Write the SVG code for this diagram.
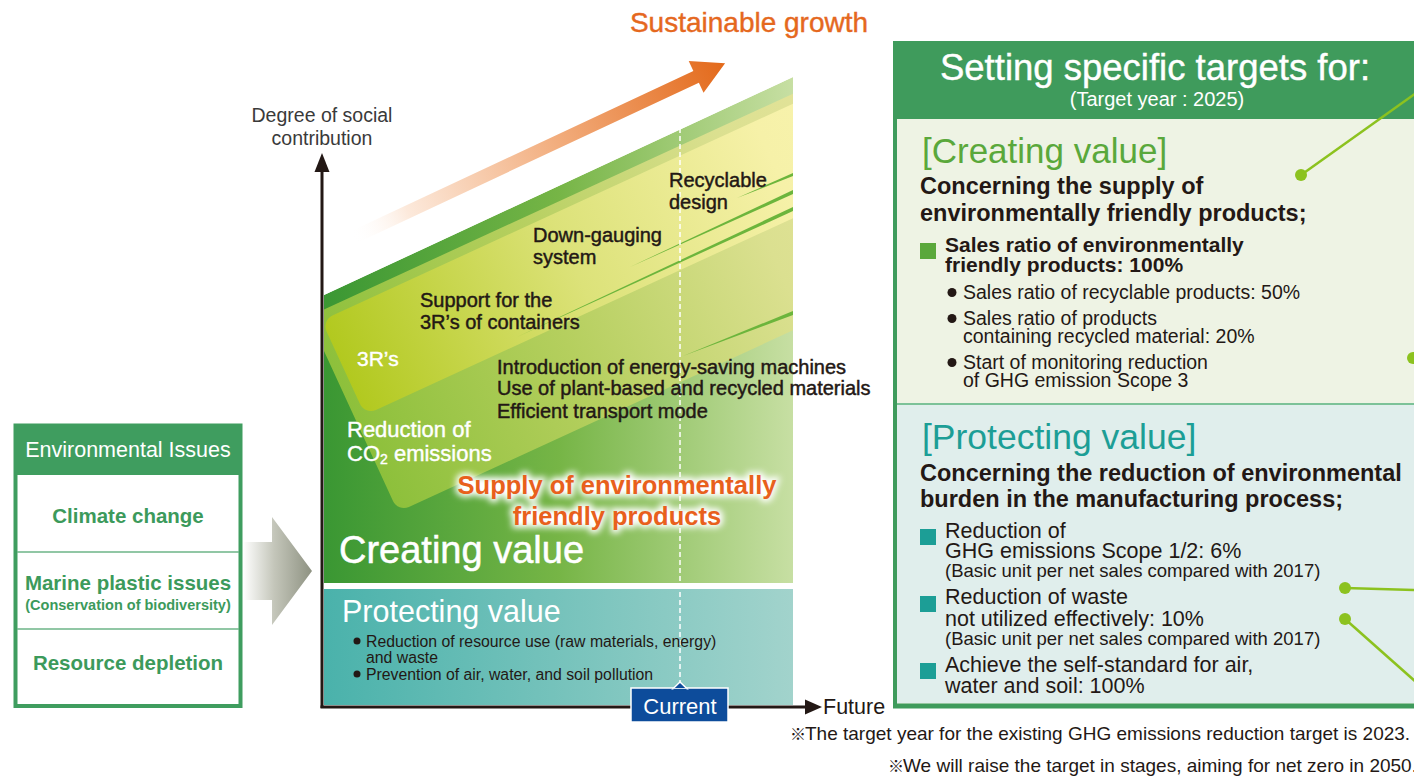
<svg xmlns="http://www.w3.org/2000/svg" width="1414" height="777" viewBox="0 0 1414 777">
<defs>
<style>
.t{font-family:"Liberation Sans",Arial,"DejaVu Sans",sans-serif}
.dk{fill:#231815}
.med{stroke:#231815;stroke-width:0.45}
.w{fill:#ffffff}
.g{fill:#3c9a5b;font-weight:bold}
.lead{stroke:#8cc21f;stroke-width:2.5;fill:none}
.dot{fill:#8cc21f}
</style>
<linearGradient id="bgGrad" gradientUnits="userSpaceOnUse" x1="324" y1="0" x2="793" y2="0">
<stop offset="0" stop-color="#3a9733"/><stop offset="0.5" stop-color="#76b546"/><stop offset="1" stop-color="#c7dfa3"/>
</linearGradient>
<linearGradient id="card1" x1="0" y1="0" x2="1" y2="0">
<stop offset="0" stop-color="#8dc03b"/><stop offset="0.4" stop-color="#b5cf5e"/><stop offset="0.8" stop-color="#dbe090"/><stop offset="1" stop-color="#e3e39a"/>
</linearGradient>
<linearGradient id="card2" x1="0" y1="0" x2="1" y2="0">
<stop offset="0" stop-color="#b2c91f"/><stop offset="0.45" stop-color="#dce279"/><stop offset="0.85" stop-color="#f6f1a8"/><stop offset="1" stop-color="#f8f3ae"/>
</linearGradient>
<linearGradient id="protGrad" gradientUnits="userSpaceOnUse" x1="324" y1="0" x2="793" y2="0">
<stop offset="0" stop-color="#4ab2ab"/><stop offset="1" stop-color="#a2d3cc"/>
</linearGradient>
<linearGradient id="orangeGrad" x1="0" y1="0" x2="1" y2="0">
<stop offset="0" stop-color="#ffffff" stop-opacity="0"/><stop offset="0.15" stop-color="#fce9db"/><stop offset="0.55" stop-color="#f2ad7d"/><stop offset="1" stop-color="#e3691a"/>
</linearGradient>
<linearGradient id="grayGrad" gradientUnits="userSpaceOnUse" x1="243" y1="0" x2="312" y2="0">
<stop offset="0" stop-color="#ffffff"/><stop offset="0.45" stop-color="#c4c6ba"/><stop offset="1" stop-color="#8e9282"/>
</linearGradient>
<clipPath id="chartClip"><path d="M324,295 L793,77 L793,583 L324,583 Z"/></clipPath>
<filter id="glow" x="-10%" y="-40%" width="120%" height="180%"><feGaussianBlur stdDeviation="3"/></filter>
</defs>

<rect width="1414" height="777" fill="#ffffff"/>

<!-- Sustainable growth arrow -->
<g id="growth-arrow">
<path d="M0,-6.5 L380,-6.5 L380,-17.5 L412,0 L380,17.5 L380,6.5 L0,6.5 Z" transform="translate(352,238) rotate(-25.1)" fill="url(#orangeGrad)"/>
<text class="t" x="749" y="32" font-size="28" fill="#e5681e" stroke="#e5681e" stroke-width="0.4" text-anchor="middle">Sustainable growth</text>
</g>

<!-- Chart -->
<g id="chart">
<g clip-path="url(#chartClip)">
<path d="M324,295 L793,77 L793,583 L324,583 Z" fill="url(#bgGrad)"/>
<rect x="0" y="-215" width="560" height="215" rx="12" transform="translate(398,512) rotate(-24.7)" fill="url(#card1)"/>
<rect x="0" y="-104" width="560" height="104" rx="12" transform="translate(365,415) rotate(-24.7)" fill="url(#card2)"/>
<polygon points="737,198 793,173 793,176" fill="#6cb53c"/>
<polygon points="630,267 793,190 793,194" fill="#6cb53c"/>
<polygon points="517,337 793,207 793,211" fill="#6cb53c"/>
<polygon points="683,356 793,311 793,315" fill="#6cb53c"/>
</g>
<rect x="324" y="589" width="469" height="116" fill="url(#protGrad)"/>
<line x1="680" y1="128" x2="680" y2="684" stroke="#ffffff" stroke-width="1.5" stroke-dasharray="5 3"/>

<text class="t dk med" font-size="20"><tspan x="669" y="187">Recyclable</tspan><tspan x="669" y="209">design</tspan></text>
<text class="t dk med" font-size="20"><tspan x="533" y="242">Down-gauging</tspan><tspan x="533" y="264">system</tspan></text>
<text class="t dk med" font-size="20"><tspan x="420" y="307">Support for the</tspan><tspan x="420" y="329">3R’s of containers</tspan></text>
<text class="t w" font-size="21" x="357" y="366" stroke="#ffffff" stroke-width="0.4">3R’s</text>
<text class="t dk med" font-size="20"><tspan x="497" y="374">Introduction of energy-saving machines</tspan><tspan x="497" y="395">Use of plant-based and recycled materials</tspan><tspan x="497" y="418">Efficient transport mode</tspan></text>
<text class="t w" font-size="22" stroke="#ffffff" stroke-width="0.4"><tspan x="347" y="437">Reduction of</tspan><tspan x="347" y="461">CO<tspan font-size="14" dy="3">2</tspan><tspan dy="-3"> emissions</tspan></tspan></text>

<g filter="url(#glow)">
<text class="t" font-size="25.5" font-weight="bold" fill="#ffffff" stroke="#ffffff" stroke-width="6" text-anchor="middle"><tspan x="617" y="494">Supply of environmentally</tspan><tspan x="617" y="525">friendly products</tspan></text>
</g>
<text class="t" font-size="25.5" font-weight="bold" fill="#e8601c" text-anchor="middle"><tspan x="617" y="494">Supply of environmentally</tspan><tspan x="617" y="525">friendly products</tspan></text>

<text class="t w" font-size="38" x="339" y="563" stroke="#ffffff" stroke-width="0.5">Creating value</text>
<text class="t w" font-size="30.5" x="342" y="622">Protecting value</text>
<circle cx="357" cy="641" r="3.5" fill="#231815"/>
<circle cx="357" cy="674" r="3.5" fill="#231815"/>
<text class="t dk" font-size="15.8"><tspan x="366" y="647">Reduction of resource use (raw materials, energy)</tspan><tspan x="366" y="663">and waste</tspan><tspan x="366" y="680">Prevention of air, water, and soil pollution</tspan></text>

<!-- axes -->
<line x1="322" y1="708" x2="322" y2="168" stroke="#231815" stroke-width="3"/>
<polygon points="322,153 314.5,172 329.5,172" fill="#231815"/>
<line x1="320.5" y1="707" x2="808" y2="707" stroke="#231815" stroke-width="3"/>
<polygon points="822,707 805,699.5 805,714.5" fill="#231815"/>
<text class="t" font-size="19.5" fill="#3a3a3a" text-anchor="middle"><tspan x="322" y="122">Degree of social</tspan><tspan x="322" y="145">contribution</tspan></text>
<text class="t dk" font-size="21.5" x="823" y="714">Future</text>

<g id="current">
<rect x="631" y="688" width="97" height="34" fill="#0d4c9b" stroke="#ffffff" stroke-width="1.5"/>
<polygon points="673,688.8 680,682 687,688.8" fill="#0d4c9b" stroke="#ffffff" stroke-width="1.5"/>
<rect x="673.5" y="688.8" width="13" height="2" fill="#0d4c9b"/>
<text class="t w" font-size="22" x="680" y="714" text-anchor="middle">Current</text>
</g>
</g>

<!-- Environmental issues -->
<g id="env-issues">
<rect x="15.5" y="425.5" width="225" height="280.5" fill="#ffffff" stroke="#3f9d5f" stroke-width="4"/>
<rect x="14" y="424" width="228" height="51" fill="#3f9d5f"/>
<line x1="17" y1="552" x2="239" y2="552" stroke="#6cb587" stroke-width="1.5"/>
<line x1="17" y1="629" x2="239" y2="629" stroke="#6cb587" stroke-width="1.5"/>
<text class="t w" font-size="21.5" x="128" y="457" text-anchor="middle">Environmental Issues</text>
<text class="t g" font-size="20.5" x="128" y="523" text-anchor="middle">Climate change</text>
<text class="t g" font-size="20.5" x="128" y="590" text-anchor="middle">Marine plastic issues</text>
<text class="t g" font-size="14.5" x="128" y="610" text-anchor="middle">(Conservation of biodiversity)</text>
<text class="t g" font-size="20.5" x="128" y="670" text-anchor="middle">Resource depletion</text>
</g>

<!-- Targets panel -->
<g id="targets-panel">
<rect x="895" y="43" width="530" height="663" fill="#eef3e4" stroke="#3f9b5c" stroke-width="4"/>
<rect x="897" y="405" width="525" height="298" fill="#e0eeec"/>
<line x1="897" y1="404" x2="1414" y2="404" stroke="#7cc298" stroke-width="2"/>
<rect x="893" y="41" width="530" height="78" fill="#3f9b5c"/>
<line x1="893" y1="706" x2="1414" y2="706" stroke="#3f9b5c" stroke-width="5"/>
<text class="t w" font-size="36.5" x="1155" y="80" text-anchor="middle" stroke="#ffffff" stroke-width="0.4">Setting specific targets for:</text>
<text class="t w" font-size="20" x="1157" y="106" text-anchor="middle">(Target year : 2025)</text>

<text class="t" font-size="35" fill="#5aa83b" x="922" y="163">[Creating value]</text>
<text class="t dk" font-size="23.5" font-weight="bold"><tspan x="920" y="194">Concerning the supply of</tspan><tspan x="920" y="221">environmentally friendly products;</tspan></text>
<rect x="920" y="243" width="16" height="16" fill="#5aa83b"/>
<text class="t dk" font-size="21" font-weight="bold"><tspan x="945" y="252">Sales ratio of environmentally</tspan><tspan x="945" y="272">friendly products: 100%</tspan></text>
<circle cx="952" cy="292.5" r="4.5" fill="#231815"/>
<circle cx="952" cy="318.5" r="4.5" fill="#231815"/>
<circle cx="952" cy="362.5" r="4.5" fill="#231815"/>
<text class="t dk" font-size="19.5"><tspan x="963" y="299">Sales ratio of recyclable products: 50%</tspan><tspan x="963" y="325">Sales ratio of products</tspan><tspan x="963" y="343">containing recycled material: 20%</tspan><tspan x="963" y="369">Start of monitoring reduction</tspan><tspan x="963" y="387">of GHG emission Scope 3</tspan></text>

<text class="t" font-size="35.5" fill="#1c9e96" x="922" y="449">[Protecting value]</text>
<text class="t dk" font-size="23.5" font-weight="bold"><tspan x="920" y="481">Concerning the reduction of environmental</tspan><tspan x="920" y="507">burden in the manufacturing process;</tspan></text>
<rect x="920" y="529" width="16" height="16" fill="#1c9e96"/>
<rect x="920" y="596" width="16" height="16" fill="#1c9e96"/>
<rect x="920" y="663" width="16" height="16" fill="#1c9e96"/>
<text class="t dk" font-size="21.5"><tspan x="945" y="538">Reduction of</tspan><tspan x="945" y="558">GHG emissions Scope 1/2: 6%</tspan></text>
<text class="t dk" font-size="18.5" x="945" y="577">(Basic unit per net sales compared with 2017)</text>
<text class="t dk" font-size="21.5"><tspan x="945" y="604">Reduction of waste</tspan><tspan x="945" y="626">not utilized effectively: 10%</tspan></text>
<text class="t dk" font-size="18.5" x="945" y="645">(Basic unit per net sales compared with 2017)</text>
<text class="t dk" font-size="21.5"><tspan x="945" y="672">Achieve the self-standard for air,</tspan><tspan x="945" y="693">water and soil: 100%</tspan></text>
</g>

<!-- connectors -->
<g id="connectors">
<path d="M243,542 L272,542 L272,517 L312,571 L272,625 L272,600 L243,600 Z" fill="url(#grayGrad)"/>
<line class="lead" x1="1301" y1="175" x2="1416" y2="93"/>
<circle class="dot" cx="1301" cy="175" r="6"/>
<circle class="dot" cx="1413" cy="358" r="6"/>
<line class="lead" x1="1345" y1="588" x2="1416" y2="590"/>
<circle class="dot" cx="1345" cy="588" r="6"/>
<line class="lead" x1="1345" y1="619" x2="1416" y2="682"/>
<circle class="dot" cx="1345" cy="619" r="6"/>
</g>

<!-- notes -->
<g id="notes">
<text class="t dk" font-size="19"><tspan x="790" y="740" font-size="16" font-family="'Noto Sans CJK JP','DejaVu Sans',sans-serif">※</tspan><tspan x="805" y="740">The target year for the existing GHG emissions reduction target is 2023.</tspan></text>
<text class="t dk" font-size="19"><tspan x="888" y="772" font-size="16" font-family="'Noto Sans CJK JP','DejaVu Sans',sans-serif">※</tspan><tspan x="903" y="772">We will raise the target in stages, aiming for net zero in 2050.</tspan></text>
</g>
</svg>
